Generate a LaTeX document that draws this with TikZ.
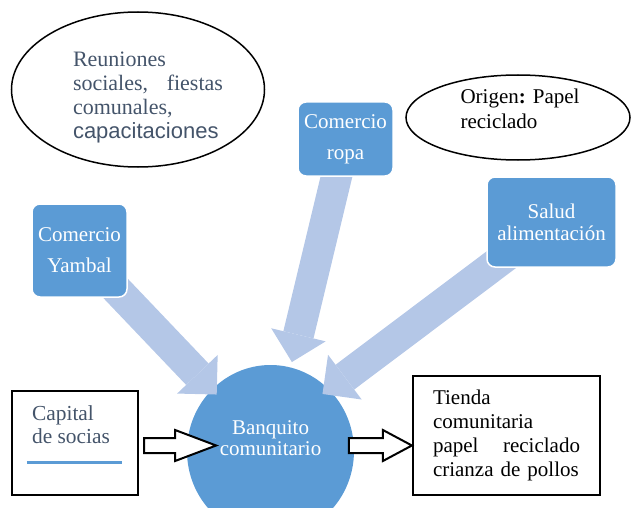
\documentclass[tikz,border=0pt]{standalone}
\usepackage{fontspec}
\setmainfont{Liberation Serif}
\newfontfamily\sansfont{Liberation Sans}
\usepackage{tikz}
\usetikzlibrary{shapes.geometric, arrows.meta, calc}
\definecolor{boxBlue}{RGB}{91,155,213}
\definecolor{arrowBlue}{RGB}{180,199,231}
\definecolor{slateText}{RGB}{68,84,106}
\pgfdeclarelayer{disc}
\pgfdeclarelayer{flow}
\pgfsetlayers{disc,flow,main}

\begin{document}
\begin{tikzpicture}[x=1pt, y=-1pt,
    bubble/.style={ellipse, draw, line width=1.5pt, inner sep=0pt},
    bluebox/.style={rectangle, rounded corners=8pt, draw=white, line width=1.5pt,
                    fill=boxBlue, text=white, align=center, inner sep=2pt},
    framebox/.style={rectangle, draw, line width=2.2pt, inner sep=0pt},
    fatarr/.style={draw=arrowBlue, line width=31pt,
                   -{Triangle[length=28pt, width=56pt, line width=0pt]}},
    hollow/.style={draw, fill=white, line width=2pt, line join=miter},
    txt/.style={font={\fontsize{21}{24}\selectfont}, inner sep=0pt},
  ]
    \useasboundingbox (0,0) rectangle (634,508);

    % Ellipses on top
    \node[bubble, minimum width=253pt, minimum height=155pt] (meet) at (138,89.5) {};
    \node[txt, text=slateText, align=left, text width=150pt,
          font={\fontsize{22}{24}\selectfont}] (meettxt) at (148,97.5)
      {Reuniones\\sociales,\hfill fiestas\\comunales,\\{\sansfont capacitaciones}};
    \node[bubble, minimum width=224pt, minimum height=85pt] (origen) at (518,117.5) {};
    \node[txt, align=left, font={\fontsize{21}{25}\selectfont}] (origentxt) at (520,108.5)
      {Origen\textbf{:} Papel\\reciclado};

    % Blue boxes
    \node[bluebox, minimum width=95pt, minimum height=74pt,
          font={\fontsize{21}{31}\selectfont}] (ropa) at (345.5,139) {Comercio\\ropa};
    \node[bluebox, minimum width=95pt, minimum height=93pt,
          font={\fontsize{21}{31}\selectfont}] (yambal) at (79.5,250.5) {Comercio\\Yambal};
    \node[bluebox, minimum width=129pt, minimum height=90pt,
          font={\fontsize{21}{22}\selectfont}] (salud) at (551.5,222) {Salud\\alimentación};

    % Banquito
    \begin{pgfonlayer}{disc}
      \node[ellipse, fill=boxBlue, minimum width=167pt, minimum height=172pt,
            inner sep=0pt] (banco) at (270.5,451) {};
    \end{pgfonlayer}
    \node[txt, text=white, align=center, font={\fontsize{21}{21}\selectfont}]
      (bancotxt) at (270.5,438.5) {Banquito\\comunitario};

    % Capital and tienda
    \node[framebox, minimum width=126pt, minimum height=104pt] (capital) at (75,443) {};
    \node[txt, text=slateText, align=left, font={\fontsize{21.4}{23}\selectfont}]
      (capitaltxt) at (71,424.5) {Capital\\de socias};
    \draw[boxBlue, line width=3pt] ($(capital.west)+(16,19)$) -- ++(95,0);
    \node[framebox, minimum width=187pt, minimum height=119pt, txt, align=left,
          text width=147pt] (tienda) at (506.5,435.5)
      {Tienda\\comunitaria\\papel\hfill reciclado\\\mbox{crianza de pollos}};

    % Fat arrows into the banquito
    \begin{pgfonlayer}{flow}
      \draw[fatarr, shorten >=78pt] (yambal.center) -- (banco.center);
      \draw[fatarr, shorten >=91.5pt] (ropa.center) -- (banco.center);
      \draw[fatarr, shorten >=65pt] (salud.center) -- ([yshift=18pt]banco.center);
    \end{pgfonlayer}

    % Hollow arrows
    \draw[hollow] ($(capital.east)+(5,-5)$) -- ++(31,0) -- ++(0,-8) -- ++(41,15.5)
      -- ++(-41,15.5) -- ++(0,-8) -- ++(-31,0) -- cycle;
    \draw[hollow] ($(tienda.west)+(0,10)$) -- ++(-29,-15.5) -- ++(0,8) -- ++(-34,0)
      -- ++(0,15) -- ++(34,0) -- ++(0,8) -- cycle;
  \end{tikzpicture}
\end{document}
